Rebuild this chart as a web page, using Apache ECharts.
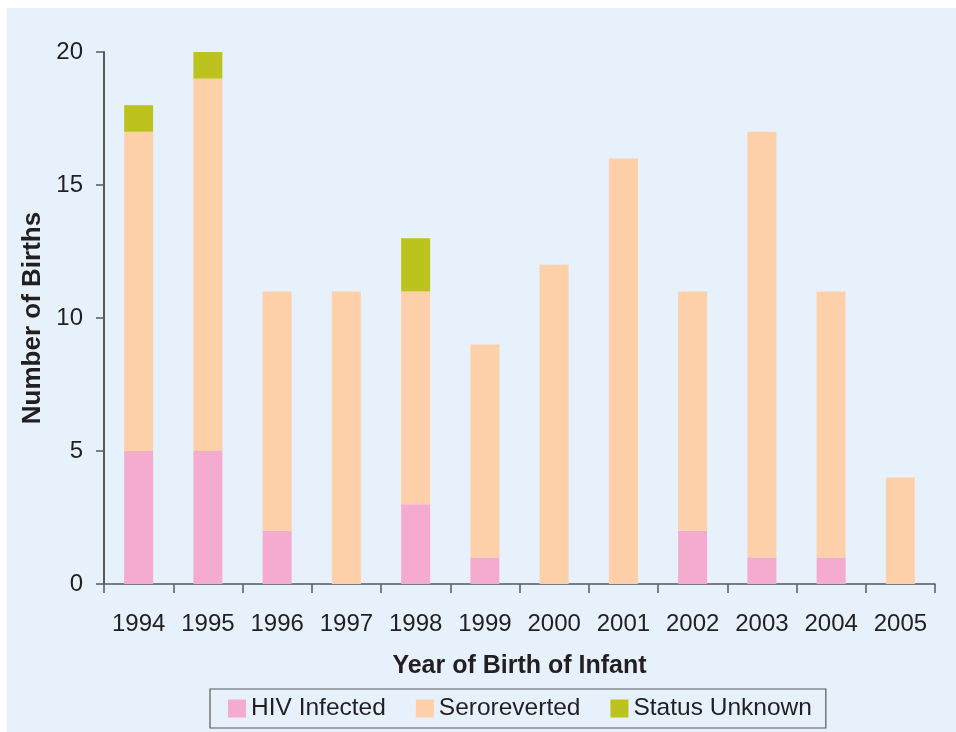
<!DOCTYPE html>
<html>
<head>
<meta charset="utf-8">
<script src="https://cdn.jsdelivr.net/npm/echarts@6/dist/echarts.min.js"></script>
<style>
  html, body { margin: 0; padding: 0; background: #ffffff; }
  #chart { width: 956px; height: 732px; }
</style>
</head>
<body>
<div id="chart"></div>
<script>
// data
const years = ['1994', '1995', '1996', '1997', '1998', '1999', '2000', '2001', '2002', '2003', '2004', '2005'];
const hivInfected = [5, 5, 2, 0, 3, 1, 0, 0, 2, 1, 1, 0];
const seroreverted = [12, 14, 9, 11, 8, 8, 12, 16, 9, 16, 10, 4];
const statusUnknown = [1, 1, 0, 0, 2, 0, 0, 0, 0, 0, 0, 0];
const yTicks = { min: 0, max: 20, interval: 5 };

const axisColor = '#58595b';
const textColor = '#231f20';
const font = 'Arial, "Liberation Sans", sans-serif';

const chart = echarts.init(document.getElementById('chart'));

const option = {
  backgroundColor: '#ffffff',
  animation: false,
  textStyle: { fontFamily: font },
  graphic: [{
    type: 'rect',
    z: -10,
    shape: { x: 7, y: 8, width: 949, height: 724 },
    style: { fill: '#e6f1fb' }
  }],
  grid: { left: 104, top: 52, width: 831, height: 532 },
  legend: {
    left: 210,
    top: 689,
    padding: [7, 14, 7, 18],
    borderColor: axisColor,
    borderWidth: 1.2,
    itemWidth: 18,
    itemHeight: 18,
    itemGap: 30,
    icon: 'rect',
    textStyle: { fontSize: 24.5, color: textColor, fontFamily: font },
    data: ['HIV Infected', 'Seroreverted', 'Status Unknown']
  },
  xAxis: {
    type: 'category',
    data: years,
    name: 'Year of Birth of Infant',
    nameLocation: 'middle',
    nameGap: 70,
    nameTextStyle: { fontSize: 25, fontWeight: 'bold', color: textColor },
    axisLine: { lineStyle: { color: axisColor, width: 1.5 } },
    axisTick: { show: true, interval: 0, length: 9, lineStyle: { color: axisColor, width: 1.5 } },
    axisLabel: { interval: 0, hideOverlap: false, fontSize: 24, color: textColor, margin: 28 }
  },
  yAxis: {
    type: 'value',
    min: yTicks.min,
    max: yTicks.max,
    interval: yTicks.interval,
    name: 'Number of Births',
    nameLocation: 'middle',
    nameGap: 56,
    nameTextStyle: { fontSize: 26, fontWeight: 'bold', color: textColor },
    splitLine: { show: false },
    axisLine: { show: true, lineStyle: { color: axisColor, width: 2 } },
    axisTick: { show: true, length: 8, lineStyle: { color: axisColor, width: 1.5 } },
    axisLabel: { fontSize: 24, color: textColor, margin: 21 }
  },
  series: [
    {
      name: 'HIV Infected',
      type: 'bar',
      stack: 'births',
      barWidth: 29,
      data: hivInfected,
      itemStyle: { color: '#f5aad0' }
    },
    {
      name: 'Seroreverted',
      type: 'bar',
      stack: 'births',
      barWidth: 29,
      data: seroreverted,
      itemStyle: { color: '#fdd0a9' }
    },
    {
      name: 'Status Unknown',
      type: 'bar',
      stack: 'births',
      barWidth: 29,
      data: statusUnknown,
      itemStyle: { color: '#bdc31e' }
    }
  ]
};

chart.setOption(option);
</script>
</body>
</html>
